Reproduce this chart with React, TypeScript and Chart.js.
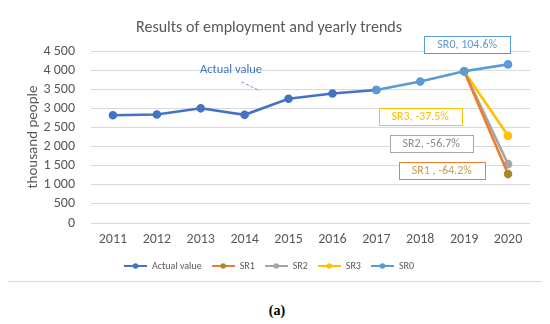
import React, { useEffect, useRef } from 'react';
import { Chart, registerables } from 'chart.js';

Chart.register(...registerables);

// ---------- data ----------
const years = ['2011', '2012', '2013', '2014', '2015', '2016', '2017', '2018', '2019', '2020'];
const actualValue = [2820, 2840, 3000, 2830, 3250, 3390, 3480, null, null, null];
const sr1 = [null, null, null, null, null, null, null, null, 3970, 1280];
const sr2 = [null, null, null, null, null, null, null, null, 3970, 1540];
const sr3 = [null, null, null, null, null, null, null, null, 3970, 2280];
const sr0 = [null, null, null, null, null, null, 3480, 3700, 3970, 4150];
const seriesNames = ['Actual value', 'SR1', 'SR2', 'SR3', 'SR0'];
const seriesColors = ['#4472C4', '#ED7D31', '#A5A5A5', '#FFC000', '#5B9BD5'];
const markerColors = ['#4472C4', '#A08C2E', '#A5A5A5', '#FFC000', '#5B9BD5'];
const yMax = 4500;
const yStep = 500;
const titleText = 'Results of employment and yearly trends';
const yTitle = 'thousand people';

// callout labels: text, anchor (category index, value), colours
const callouts = [
  { text: 'SR0, 104.6%', xi: 8.07, yv: 4674, color: '#5B9BD5', border: '#5B9BD5' },
  { text: 'SR3, -37.5%', xi: 7.0, yv: 2786, color: '#FFC000', border: '#FFC000' },
  { text: 'SR2, -56.7%', xi: 7.25, yv: 2083, color: '#8C8C8C', border: '#A5A5A5' },
  { text: 'SR1 , -64.2%', xi: 7.49, yv: 1367, color: '#C9A04A', border: '#ED7D31' },
];
const actualNote = { text: 'Actual value', xi: 2.69, yv: 3997, lineFrom: [2.93, 3693], lineTo: [3.35, 3456] };

const FONT = 'Carlito, Lato, "Open Sans", sans-serif';
const TEXT = '#595959';

function legendIcon(color: string, marker: string) {
  const c = document.createElement('canvas');
  c.width = 23;
  c.height = 8;
  const g = c.getContext('2d')!;
  g.strokeStyle = color;
  g.lineWidth = 2;
  g.beginPath();
  g.moveTo(0, 4);
  g.lineTo(23, 4);
  g.stroke();
  g.fillStyle = marker;
  g.beginPath();
  g.arc(11.5, 4, 2.8, 0, Math.PI * 2);
  g.fill();
  return c;
}

const calloutPlugin = {
  id: 'callouts',
  afterDatasetsDraw(chart: any) {
    const { ctx, scales } = chart;
    const x = scales.x;
    const y = scales.y;
    ctx.save();
    ctx.font = `12px ${FONT}`;
    ctx.textAlign = 'center';
    ctx.textBaseline = 'middle';
    for (const c of callouts) {
      const cx = x.getPixelForValue(c.xi);
      const cy = y.getPixelForValue(c.yv);
      const w = ctx.measureText(c.text).width + 26;
      const h = 17;
      ctx.fillStyle = '#ffffff';
      ctx.fillRect(cx - w / 2, cy - h / 2, w, h);
      ctx.strokeStyle = c.border;
      ctx.lineWidth = 1;
      ctx.strokeRect(Math.round(cx - w / 2) + 0.5, Math.round(cy - h / 2) + 0.5, Math.round(w), h);
      ctx.fillStyle = c.color;
      ctx.fillText(c.text, cx, cy + 0.5);
    }
    // actual value note
    ctx.fillStyle = '#4472C4';
    ctx.font = `12.5px ${FONT}`;
    ctx.fillText(actualNote.text, x.getPixelForValue(actualNote.xi), y.getPixelForValue(actualNote.yv));
    ctx.strokeStyle = '#6A8FD0';
    ctx.lineWidth = 1;
    ctx.setLineDash([3, 2]);
    ctx.beginPath();
    ctx.moveTo(x.getPixelForValue(actualNote.lineFrom[0]), y.getPixelForValue(actualNote.lineFrom[1]));
    ctx.lineTo(x.getPixelForValue(actualNote.lineTo[0]), y.getPixelForValue(actualNote.lineTo[1]));
    ctx.stroke();
    ctx.restore();
  },
};

export default function App() {
  const ref = useRef<HTMLCanvasElement | null>(null);

  useEffect(() => {
    if (!ref.current) return;
    const seriesData = [actualValue, sr1, sr2, sr3, sr0];
    const icons = seriesColors.map((c, i) => legendIcon(c, markerColors[i]));
    const chart = new Chart(ref.current, {
      type: 'line',
      data: {
        labels: years,
        datasets: seriesData.map((d, i) => ({
          label: seriesNames[i],
          data: d,
          borderColor: seriesColors[i],
          backgroundColor: seriesColors[i],
          pointBackgroundColor: markerColors[i],
          pointBorderColor: markerColors[i],
          borderWidth: 2.6,
          pointRadius: 3,
          pointHoverRadius: 3,
          tension: 0,
          order: i === 4 ? -1 : i,
        })),
      },
      options: {
        responsive: false,
        animation: false,
        layout: { padding: { left: 0, right: 12, top: 0, bottom: 0 } },
        scales: {
          x: {
            offset: true,
            grid: { display: false, drawTicks: false, offset: true },
            border: { display: false },
            ticks: { color: TEXT, font: { family: FONT, size: 14 }, padding: 8, maxRotation: 0, autoSkip: false },
            afterFit: (axis: any) => {
              axis.height = 28;
            },
          },
          y: {
            min: 0,
            max: yMax,
            grid: { color: '#D9D9D9', lineWidth: 1, drawTicks: false },
            border: { display: false },
            ticks: {
              stepSize: yStep,
              autoSkip: false,
              color: TEXT,
              font: { family: FONT, size: 14 },
              padding: 16,
              callback: (v: any) => String(v).replace(/\B(?=(\d{3})+(?!\d))/g, ' '),
            },
            title: {
              display: true,
              text: yTitle,
              color: TEXT,
              font: { family: FONT, size: 15 },
              padding: { top: 16, bottom: 0 },
            },
            afterFit: (axis: any) => {
              axis.width = 83;
            },
          },
        },
        plugins: {
          title: {
            display: true,
            text: titleText,
            color: TEXT,
            font: { family: FONT, size: 16, weight: 'normal' },
            padding: { top: 10.4, bottom: 13.4 },
          },
          legend: {
            position: 'bottom',
            labels: {
              usePointStyle: true,
              pointStyleWidth: 23,
              color: TEXT,
              font: { family: FONT, size: 10 },
              padding: 10,
              sort: (a: any, b: any) => a.datasetIndex - b.datasetIndex,
              generateLabels: (c: any) => {
                const items = (Chart as any).defaults.plugins.legend.labels.generateLabels(c);
                items.forEach((it: any) => {
                  it.pointStyle = icons[it.datasetIndex];
                });
                return items;
              },
            },
          },
          tooltip: { enabled: false },
        },
      },
      plugins: [calloutPlugin],
    } as any);
    return () => chart.destroy();
  }, []);

  return (
    <div style={{ position: 'relative', width: 550, height: 324 }}>
      <div
        style={{
          position: 'absolute',
          left: -1,
          top: -1,
          width: 536,
          height: 275,
          border: '1px solid #D9D9D9',
          boxSizing: 'border-box',
        }}
      >
        <canvas ref={ref} width={534} height={273} style={{ display: 'block', width: 534, height: 273 }} />
      </div>
      <div
        style={{
          position: 'absolute',
          left: 277 - 8 - 50,
          top: 303 - 8,
          width: 100,
          textAlign: 'center',
          fontFamily: '"Liberation Serif", "Times New Roman", serif',
          fontWeight: 'bold',
          fontSize: 14,
          color: '#000',
        }}
      >
        (a)
      </div>
    </div>
  );
}
